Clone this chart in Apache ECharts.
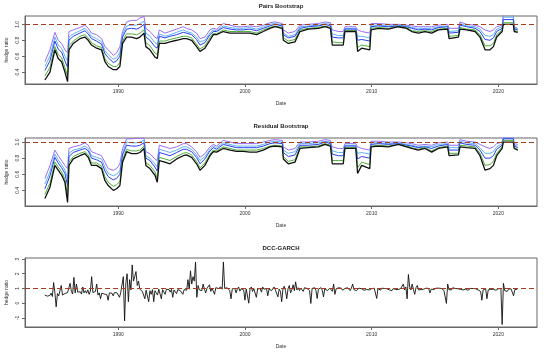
<!DOCTYPE html>
<html><head><meta charset="utf-8">
<script src="https://cdn.jsdelivr.net/npm/echarts@6/dist/echarts.min.js"></script>
<style>html,body{margin:0;padding:0;background:#fff}#c{width:550px;height:355px}</style>
</head><body><div id="c"></div>
<script>
const panelTitles = ['Pairs Bootstrap', 'Residual Bootstrap', 'DCC-GARCH'];
const xTicks = [1990, 2000, 2010, 2020];
const yTicksBoot = [0.4, 0.6, 0.8, 1.0];
const yTicksDcc = [-1, 0, 1, 2, 3];
const hedgeLine = 1;

const bootDates = [
1984.21,1984.61,1985.00,1985.26,1985.53,1985.79,1986.00,1986.11,1986.45,1986.97,
1987.37,1987.63,1987.89,1988.29,1988.68,1988.95,1989.21,1989.61,1989.87,1990.13,
1990.34,1990.66,1991.05,1991.45,1991.71,1992.03,1992.18,1992.50,1992.89,1993.08,
1993.24,1993.68,1994.08,1994.61,1995.13,1995.39,1995.79,1996.18,1996.45,1996.84,
1997.24,1997.50,1997.76,1998.29,1998.82,1999.34,1999.87,2000.39,2000.92,2001.45,
2001.97,2002.37,2002.95,2003.03,2003.42,2003.95,2004.34,2005.00,2005.79,2006.32,
2006.75,2006.89,2007.37,2007.76,2007.89,2008.75,2008.89,2009.21,2009.85,2009.95,
2010.53,2011.32,2012.11,2012.76,2013.16,2013.68,2014.21,2014.74,2015.26,2016.00,
2016.11,2016.85,2016.97,2017.50,2018.16,2018.55,2018.95,2019.34,2019.61,2019.87,
2020.30,2020.39,2021.18,2021.25,2021.53];

const pairsBlack = [
.30,.40,.68,.57,.53,.40,.28,.68,.76,.82,
.84,.80,.74,.70,.68,.53,.47,.43,.43,.47,
.76,.84,.84,.82,.84,.89,.72,.68,.59,.57,
.76,.76,.78,.80,.82,.82,.80,.72,.66,.70,
.80,.87,.87,.91,.89,.89,.89,.89,.87,.91,
.95,.97,.95,.80,.76,.78,.91,.94,.95,.97,
.95,.74,.74,.74,.91,.91,.66,.70,.68,.93,
.95,.94,.97,.95,.91,.89,.91,.89,.93,.94,
.82,.84,.94,.93,.91,.84,.68,.68,.72,.84,
.91,1.00,1.00,.91,.90];
const pairsGreen = [
.35,.46,.72,.62,.58,.46,.35,.73,.79,.85,
.87,.83,.77,.73,.71,.57,.51,.47,.47,.52,
.79,.88,.88,.87,.89,.93,.77,.73,.64,.62,
.79,.79,.81,.83,.85,.85,.83,.75,.69,.73,
.83,.89,.88,.93,.91,.91,.91,.91,.89,.93,
.96,.98,.96,.83,.79,.81,.93,.95,.96,.98,
.96,.78,.77,.77,.92,.92,.71,.74,.72,.95,
.96,.95,.97,.96,.92,.91,.92,.91,.94,.95,
.85,.86,.96,.94,.93,.87,.73,.73,.76,.87,
.93,1.02,1.02,.92,.91];
const pairsBlue = [
.42,.54,.79,.69,.65,.54,.46,.80,.85,.89,
.92,.88,.82,.79,.75,.63,.58,.52,.54,.60,
.84,.94,.95,.94,.96,1.00,.84,.80,.72,.70,
.85,.83,.85,.87,.90,.89,.87,.81,.74,.77,
.87,.91,.91,.96,.94,.93,.93,.94,.92,.95,
.98,1.00,.98,.87,.83,.85,.95,.97,.98,1.00,
.98,.84,.83,.83,.94,.94,.80,.81,.79,.97,
.98,.97,.98,.97,.95,.93,.94,.93,.96,.97,
.89,.90,.99,.97,.95,.91,.81,.80,.83,.91,
.95,1.06,1.06,.94,.93];
const pairsCyan = [
.47,.60,.84,.74,.70,.60,.54,.84,.88,.92,
.95,.91,.85,.82,.78,.67,.62,.56,.58,.65,
.87,.98,.99,.99,1.01,1.04,.89,.85,.77,.75,
.88,.85,.87,.90,.93,.91,.89,.84,.78,.80,
.89,.93,.92,.98,.96,.95,.95,.96,.94,.97,
1.00,1.01,.99,.89,.85,.87,.97,.98,.99,1.01,
1.00,.88,.86,.86,.95,.95,.85,.85,.83,.99,
.99,.98,.99,.98,.96,.95,.95,.95,.97,.98,
.91,.92,1.01,.98,.97,.94,.86,.85,.87,.94,
.97,1.09,1.09,.95,.94];
const pairsPurple = [
.53,.68,.90,.80,.76,.68,.64,.91,.93,.96,
.99,.95,.89,.87,.82,.72,.68,.61,.64,.72,
.91,1.03,1.05,1.05,1.08,1.10,.95,.91,.84,.82,
.93,.89,.91,.94,.97,.95,.93,.89,.82,.84,
.93,.95,.94,1.01,.99,.97,.97,.98,.97,.99,
1.02,1.03,1.01,.93,.89,.91,.99,1.00,1.01,1.03,
1.02,.93,.91,.91,.97,.97,.93,.91,.89,1.01,
1.01,1.00,1.00,.99,.98,.97,.97,.97,.99,1.00,
.95,.95,1.03,1.00,.99,.97,.93,.91,.93,.97,
.99,1.12,1.12,.97,.95];

const resBlack = [
.30,.44,.71,.65,.59,.50,.25,.71,.79,.83,
.855,.81,.71,.71,.67,.52,.46,.40,.42,.46,
.75,.88,.855,.855,.87,.92,.71,.67,.59,.50,
.77,.75,.73,.79,.83,.84,.81,.73,.65,.71,
.83,.88,.875,.92,.90,.885,.885,.875,.875,.90,
.94,.95,.94,.79,.73,.75,.92,.93,.94,.97,
.95,.73,.73,.73,.92,.92,.61,.71,.67,.94,
.95,.94,.97,.94,.92,.90,.92,.875,.92,.94,
.83,.84,.94,.93,.92,.83,.65,.67,.71,.83,
.92,1.00,1.00,.92,.90];
const resGreen = [
.35,.49,.75,.69,.63,.54,.33,.75,.82,.86,
.88,.84,.74,.74,.70,.57,.50,.45,.47,.51,
.78,.91,.89,.89,.90,.95,.74,.71,.63,.55,
.81,.79,.77,.82,.86,.87,.84,.76,.68,.74,
.85,.90,.89,.94,.92,.90,.90,.90,.90,.92,
.95,.96,.95,.82,.76,.78,.94,.94,.95,.98,
.96,.77,.77,.77,.93,.93,.68,.75,.72,.95,
.96,.95,.97,.95,.93,.91,.93,.89,.93,.95,
.86,.86,.96,.95,.94,.86,.71,.72,.76,.86,
.94,1.02,1.02,.93,.91];
const resBlue = [
.42,.58,.81,.74,.68,.61,.46,.82,.87,.90,
.92,.89,.80,.78,.75,.64,.57,.53,.55,.60,
.84,.96,.95,.95,.96,.99,.80,.77,.69,.64,
.87,.85,.83,.87,.91,.91,.88,.81,.73,.79,
.89,.93,.91,.97,.95,.93,.93,.93,.93,.95,
.98,.99,.98,.87,.82,.84,.96,.96,.97,1.00,
.98,.85,.83,.83,.95,.95,.79,.82,.80,.97,
.98,.97,.98,.96,.95,.93,.94,.92,.95,.97,
.90,.90,.99,.97,.96,.90,.80,.80,.83,.91,
.96,1.04,1.04,.95,.93];
const resCyan = [
.48,.63,.85,.78,.72,.65,.55,.86,.90,.92,
.95,.92,.83,.81,.79,.69,.61,.58,.60,.65,
.87,1.00,.99,.99,1.00,1.02,.83,.80,.73,.69,
.91,.89,.87,.90,.94,.94,.91,.84,.77,.82,
.91,.95,.93,.99,.97,.95,.95,.95,.95,.97,
1.00,1.01,1.00,.90,.86,.88,.98,.98,.99,1.01,
1.00,.89,.87,.87,.96,.96,.86,.87,.85,.99,
.99,.98,.99,.97,.96,.94,.95,.94,.97,.98,
.93,.93,1.01,.99,.98,.93,.86,.86,.88,.94,
.98,1.05,1.05,.96,.95];
const resPurple = [
.545,.71,.90,.83,.77,.71,.67,.92,.94,.96,
.99,.96,.88,.855,.83,.75,.67,.65,.67,.73,
.92,1.04,1.04,1.045,1.045,1.05,.88,.855,.79,.77,
.96,.94,.92,.94,.98,.98,.94,.88,.81,.855,
.94,.97,.95,1.02,1.00,.98,.98,.98,.98,1.00,
1.02,1.03,1.02,.94,.90,.92,1.00,1.00,1.01,1.03,
1.02,.94,.92,.92,.98,.98,.94,.92,.90,1.01,
1.01,1.00,1.00,.99,.98,.96,.97,.96,.99,1.00,
.96,.96,1.03,1.01,1.00,.97,.94,.92,.94,.98,
1.00,1.06,1.06,.98,.97];

// DCC-GARCH hedge ratio, sampled every 0.1 year from 1984.2
const dccStart = 1984.2;
const dccStep = 0.1;
const dccValues = [
0.55,0.62,0.48,0.60,0.52,0.68,0.45,1.40,
0.70,-0.25,0.65,0.50,0.62,1.20,0.55,0.48,0.66,0.58,
0.72,0.60,1.35,0.80,0.62,1.75,0.70,1.30,0.75,0.85,
0.78,0.62,1.10,0.70,0.85,0.68,0.90,0.60,0.82,1.80,
0.72,0.65,0.80,1.30,0.55,0.70,0.30,0.68,0.75,0.62,
0.66,0.58,0.20,0.70,0.62,0.68,0.50,0.72,0.65,0.70,
0.68,0.40,0.75,0.70,1.80,-1.20,1.40,2.00,0.10,1.60,
0.90,2.60,1.50,1.80,2.15,1.20,1.50,0.95,1.05,0.80,
0.90,0.30,0.88,0.95,0.10,0.85,0.60,0.92,0.10,0.85,
0.90,0.55,0.95,0.85,0.30,0.92,0.88,0.60,0.95,0.90,
0.92,0.75,0.95,0.40,0.90,0.96,0.65,0.92,0.98,0.85,
0.95,0.60,0.92,0.98,0.88,1.60,0.95,2.20,1.30,1.80,
1.50,2.80,0.40,1.20,0.90,1.00,0.85,1.30,0.95,0.70,
1.00,0.95,1.25,0.80,1.02,0.98,0.60,1.05,0.95,1.00,
0.98,1.10,0.95,2.80,1.00,0.92,1.05,0.98,0.85,0.30,
0.98,0.85,1.00,0.70,0.96,1.10,0.82,0.98,1.05,0.90,
0.20,0.96,0.85,0.00,0.95,1.10,0.80,0.98,1.02,0.40,
0.96,0.88,1.00,0.75,1.10,0.95,0.85,1.00,0.50,0.96,
1.00,0.85,0.98,1.10,0.90,0.98,0.43,0.95,0.80,0.10,
0.96,1.15,0.85,0.30,0.98,1.20,0.70,0.90,1.25,0.85,
1.45,0.90,1.05,0.85,1.02,0.95,0.80,1.05,0.92,1.00,
0.97,0.85,-0.02,1.00,0.90,1.05,0.88,0.32,0.96,0.90,
1.05,0.88,0.43,0.98,1.10,0.85,0.98,1.02,0.90,0.80,
1.30,0.60,0.98,0.90,1.05,0.92,1.02,0.88,0.98,1.00,
0.90,1.05,0.95,0.85,1.02,1.30,0.92,1.00,0.85,0.98,
1.02,0.90,0.98,1.05,0.88,1.00,0.93,0.99,0.90,1.00,
0.98,0.90,1.02,0.92,0.32,1.00,0.95,0.88,1.02,0.95,
1.00,0.92,0.98,1.10,0.90,1.00,0.85,0.99,1.02,0.93,
1.00,0.92,0.98,1.00,1.00,1.30,0.90,1.10,0.30,1.95,
1.10,0.90,1.30,0.92,0.60,1.05,1.20,0.90,1.00,0.92,
1.00,0.95,0.88,1.02,0.93,1.00,0.70,0.95,1.00,0.92,
0.98,1.02,0.90,1.02,0.94,1.00,0.96,0.88,1.00,-0.02,
1.30,0.92,1.00,0.90,1.05,0.94,1.00,0.88,0.98,1.02,
0.94,1.00,0.90,1.02,0.95,1.00,0.88,0.98,1.00,0.93,
1.00,0.92,0.98,1.00,0.90,1.00,0.80,0.20,0.90,0.85,
0.98,0.30,0.90,1.00,0.93,1.05,0.95,1.00,0.88,1.00,
0.98,0.95,1.00,-1.45,1.35,0.85,0.96,0.80,0.95,0.88,
0.98,0.90,0.50,0.92,1.00,0.95];
const dccDates = dccValues.map((v, i) => +(dccStart + i * dccStep).toFixed(2));

const colors = {black: '#111111', green: '#4fae3a', blue: '#2a3ff0', cyan: '#5cb4f2', purple: '#9a6cf8'};
const FONT = 'Liberation Sans, Arial, sans-serif';
const grids = [
  {left: 25, top: 16, width: 512, height: 68},
  {left: 25, top: 138, width: 512, height: 68},
  {left: 25, top: 258, width: 512, height: 69}
];
const yRanges = [[0.25, 1.105], [0.206, 1.05], [-1.62, 3.07]];

const pair = (xs, ys) => xs.map((x, i) => [x, ys[i]]);

function xAxisFor(i) {
  return {
    type: 'value', gridIndex: i, min: 1982.64, max: 2023.05,
    splitLine: {show: false},
    axisLine: {show: true, onZero: false, lineStyle: {color: '#666', width: 1}},
    axisTick: {show: true, length: 3, customValues: xTicks, lineStyle: {color: '#666'}},
    axisLabel: {customValues: xTicks, fontSize: 5, color: '#333', margin: 5, fontFamily: FONT,
      formatter: v => String(Math.round(v))}
  };
}
function yAxisFor(i) {
  const ticks = i < 2 ? yTicksBoot : yTicksDcc;
  return {
    type: 'value', gridIndex: i, min: yRanges[i][0], max: yRanges[i][1],
    splitLine: {show: false},
    axisLine: {show: true, onZero: false, lineStyle: {color: '#666', width: 1}},
    axisTick: {show: true, length: 3, customValues: ticks, lineStyle: {color: '#666'}},
    axisLabel: {customValues: ticks, rotate: 90, fontSize: 5, color: '#333', margin: 5, fontFamily: FONT,
      formatter: v => i < 2 ? Number(v).toFixed(1) : String(Math.round(v))}
  };
}
function lineSeries(i, data, color, width) {
  return {type: 'line', xAxisIndex: i, yAxisIndex: i, data: data, showSymbol: false, symbol: 'none',
    lineStyle: {color: color, width: width}, silent: true, animation: false, clip: true};
}
function refSeries(i) {
  return {type: 'line', xAxisIndex: i, yAxisIndex: i, data: [], silent: true, z: 5,
    markLine: {symbol: 'none', silent: true, animation: false, label: {show: false},
      lineStyle: {color: '#a3401c', width: 1.2, type: [5, 3]}, data: [{yAxis: hedgeLine}]}};
}

const series = [];
[[pairsPurple, pairsCyan, pairsBlue, pairsGreen, pairsBlack],
 [resPurple, resCyan, resBlue, resGreen, resBlack]].forEach((set, i) => {
  const cols = [colors.purple, colors.cyan, colors.blue, colors.green, colors.black];
  set.forEach((arr, k) => series.push(lineSeries(i, pair(bootDates, arr), cols[k], k === 4 ? 1.3 : 1)));
  series.push(refSeries(i));
});
series.push(lineSeries(2, pair(dccDates, dccValues), colors.black, 0.9));
series.push(refSeries(2));

const graphics = [];
const titleY = [6, 126, 248];
const dateY = [104, 226, 347];
grids.forEach((g, i) => {
  graphics.push({type: 'text', x: g.left + g.width / 2, y: titleY[i],
    style: {text: panelTitles[i], font: 'bold 6px ' + FONT, fill: '#222', textAlign: 'center', textVerticalAlign: 'middle'}});
  graphics.push({type: 'text', x: g.left + g.width / 2, y: dateY[i],
    style: {text: 'Date', font: '5px ' + FONT, fill: '#333', textAlign: 'center', textVerticalAlign: 'middle'}});
  graphics.push({type: 'text', x: 7, y: g.top + g.height / 2, rotation: Math.PI / 2,
    style: {text: 'hedge ratio', font: '5px ' + FONT, fill: '#333', textAlign: 'center', textVerticalAlign: 'middle'}});
});

const chart = echarts.init(document.getElementById('c'), null, {renderer: 'canvas'});
chart.setOption({
  animation: false,
  backgroundColor: '#fff',
  grid: grids.map(g => Object.assign({show: true, borderColor: '#666', borderWidth: 1, backgroundColor: 'transparent'}, g)),
  xAxis: [0, 1, 2].map(xAxisFor),
  yAxis: [0, 1, 2].map(yAxisFor),
  series: series,
  graphic: graphics
});
</script></body></html>
